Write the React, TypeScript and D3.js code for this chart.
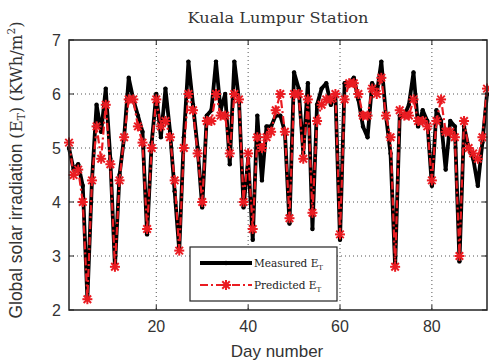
import React from "react";
import * as d3 from "d3";

const days: number[] = Array.from({ length: 92 }, (_, i) => i + 1);
const measured: number[] = [
  5.0, 4.6, 4.7, 4.3, 2.2, 4.4, 5.8, 5.3, 6.1, 4.8,
  2.8, 4.5, 5.2, 6.3, 5.9, 5.6, 5.3, 3.4, 5.1, 6.0,
  5.2, 6.1, 5.3, 4.2, 3.1, 5.2, 6.6, 5.8, 5.0, 3.9,
  5.6, 5.7, 6.6, 5.7, 6.0, 4.7, 6.6, 5.9, 3.9, 4.8,
  3.3, 5.6, 4.4, 5.4, 5.4, 5.6, 5.6, 5.3, 3.6, 6.4,
  6.1, 4.9, 6.2, 3.5, 5.8, 6.1, 6.2, 5.8, 6.0, 3.3,
  6.2, 6.2, 6.3, 5.9, 5.4, 5.2, 6.2, 6.0, 6.6, 5.6,
  4.9, 2.8, 5.6, 5.6, 5.8, 6.4, 5.4, 5.7, 5.5, 4.3,
  5.7, 5.5, 4.6, 5.5, 5.4, 2.9, 5.4, 5.0, 4.8, 4.3,
  5.1, 6.0,
];
const predicted: number[] = [
  5.1, 4.5, 4.6, 4.0, 2.2, 4.4, 5.4, 4.8, 5.8, 4.7,
  2.8, 4.4, 5.2, 5.9, 5.9, 5.4, 5.1, 3.5, 5.0, 5.9,
  5.4, 5.5, 5.2, 4.4, 3.1, 5.0, 6.0, 5.7, 4.9, 4.0,
  5.5, 5.5, 6.0, 5.6, 5.6, 4.9, 6.0, 5.9, 4.0, 4.9,
  3.5, 5.2, 5.0, 5.2, 5.3, 5.7, 6.0, 5.3, 3.7, 6.0,
  6.0, 4.8, 5.9, 3.8, 5.5, 5.8, 5.9, 5.9, 6.0, 3.4,
  5.9, 6.2, 6.2, 6.0, 5.6, 5.6, 6.1, 6.0, 6.3, 5.6,
  5.2, 2.8, 5.7, 5.6, 5.6, 5.9, 5.5, 5.5, 5.4, 4.4,
  5.5, 5.9, 5.3, 5.3, 5.2, 3.0, 5.5, 5.0, 4.9, 4.8,
  5.2, 6.1,
];
const xTicks: number[] = [20, 40, 60, 80];
const yTicks: number[] = [2, 3, 4, 5, 6, 7];
const titleText = "Kuala Lumpur Station";
const xLabel = "Day number";
const legendLabels: string[] = ["Measured E", "Predicted E"];

export default function App() {
  const W = 489, H = 364;
  const L = 69, R = 487, T = 40, B = 310;
  const x = d3.scaleLinear().domain([1, 92]).range([L, R]);
  const y = d3.scaleLinear().domain([2, 7]).range([B, T]);
  const line = d3.line<number>().x((_, i) => x(days[i])).y((v) => y(v));
  const mPath = line(measured) || "";
  const pPath = line(predicted) || "";
  const red = "#ea1c22";
  const star = (cx: number, cy: number, r: number, key: string | number) => (
    <g key={key} stroke={red} strokeWidth={2}>
      <line x1={cx - r} y1={cy} x2={cx + r} y2={cy} />
      <line x1={cx} y1={cy - r} x2={cx} y2={cy + r} />
      <line x1={cx - r * 0.75} y1={cy - r * 0.75} x2={cx + r * 0.75} y2={cy + r * 0.75} />
      <line x1={cx - r * 0.75} y1={cy + r * 0.75} x2={cx + r * 0.75} y2={cy - r * 0.75} />
    </g>
  );
  const sans = "'Liberation Sans', Arial, sans-serif";
  const serif = "'DejaVu Serif', 'Liberation Serif', serif";
  const lgX = 190, lgY = 247, lgW = 147, lgH = 54;
  return (
    <svg width={W} height={H} style={{ position: "absolute", left: 0, top: 0 }}>
      <rect x={0} y={0} width={W} height={H} fill="#fff" />
      {xTicks.map((t) => (
        <line key={"gx" + t} x1={x(t)} x2={x(t)} y1={T} y2={B} stroke="#555" strokeWidth={1} strokeDasharray="1,3" />
      ))}
      {yTicks.filter((t) => t > 2 && t < 7).map((t) => (
        <line key={"gy" + t} x1={L} x2={R} y1={y(t)} y2={y(t)} stroke="#555" strokeWidth={1} strokeDasharray="1,3" />
      ))}
      <path d={mPath} fill="none" stroke="#000" strokeWidth={3.8} strokeLinejoin="round" />
      {measured.map((v, i) => (
        <circle key={"m" + i} cx={x(days[i])} cy={y(v)} r={2.2} fill="#000" />
      ))}
      <path d={pPath} fill="none" stroke={red} strokeWidth={2.2} strokeDasharray="8,3,2,3" />
      {predicted.map((v, i) => star(x(days[i]), y(v), 5, "p" + i))}
      <rect x={L} y={T} width={R - L} height={B - T} fill="none" stroke="#222" strokeWidth={1.5} />
      {xTicks.map((t) => (
        <g key={"tx" + t}>
          <line x1={x(t)} x2={x(t)} y1={B} y2={B - 5} stroke="#222" />
          <line x1={x(t)} x2={x(t)} y1={T} y2={T + 5} stroke="#222" />
          <text x={x(t)} y={332} textAnchor="middle" fontFamily={sans} fontSize={16} fill="#333">{t}</text>
        </g>
      ))}
      {yTicks.map((t) => (
        <g key={"ty" + t}>
          <line x1={L} x2={L + 5} y1={y(t)} y2={y(t)} stroke="#222" />
          <line x1={R} x2={R - 5} y1={y(t)} y2={y(t)} stroke="#222" />
          <text x={61} y={y(t) + 6} textAnchor="end" fontFamily={sans} fontSize={16} fill="#333">{t}</text>
        </g>
      ))}
      <text x={278} y={23} textAnchor="middle" fontFamily={serif} fontSize={14} fill="#333" textLength={181} lengthAdjust="spacingAndGlyphs">{titleText}</text>
      <text x={277} y={357} textAnchor="middle" fontFamily={sans} fontSize={17} fill="#333">{xLabel}</text>
      <text transform="translate(22,170) rotate(-90)" textAnchor="middle" fontSize={17.5} fill="#333">
        <tspan fontFamily={sans}>Global solar irradiation </tspan>
        <tspan fontFamily={serif} fontSize={16.5}>(E</tspan>
        <tspan fontFamily={serif} fontSize={10.5} dy={3}>T</tspan>
        <tspan fontFamily={serif} fontSize={16.5} dy={-3}>) (KWh/m</tspan>
        <tspan fontFamily={serif} fontSize={10.5} dy={-7}>2</tspan>
        <tspan fontFamily={serif} fontSize={16.5} dy={7}>)</tspan>
      </text>
      <rect x={lgX} y={lgY} width={lgW} height={lgH} fill="#fff" stroke="#222" strokeWidth={1.2} />
      <line x1={lgX + 10} x2={lgX + 62} y1={lgY + 16} y2={lgY + 16} stroke="#000" strokeWidth={3.8} />
      <circle cx={lgX + 36} cy={lgY + 16} r={2.2} fill="#000" />
      <text x={lgX + 64} y={lgY + 20} fontFamily={serif} fontSize={10.5} fill="#222">
        {legendLabels[0]}<tspan fontSize={7} dy={3}>T</tspan>
      </text>
      <line x1={lgX + 10} x2={lgX + 62} y1={lgY + 38} y2={lgY + 38} stroke={red} strokeWidth={2.2} strokeDasharray="8,3,2,3" />
      {star(lgX + 36, lgY + 38, 5, "lg")}
      <text x={lgX + 64} y={lgY + 42} fontFamily={serif} fontSize={10.5} fill="#222">
        {legendLabels[1]}<tspan fontSize={7} dy={3}>T</tspan>
      </text>
    </svg>
  );
}
